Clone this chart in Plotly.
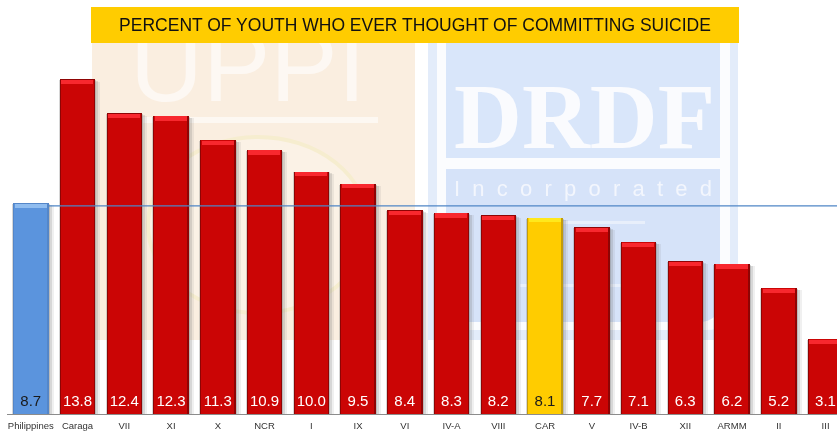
import plotly.graph_objects as go

regions = ["Philippines", "Caraga", "VII", "XI", "X", "NCR", "I", "IX", "VI", "IV-A",
           "VIII", "CAR", "V", "IV-B", "XII", "ARMM", "II", "III"]
percent = [8.7, 13.8, 12.4, 12.3, 11.3, 10.9, 10.0, 9.5, 8.4, 8.3, 8.2, 8.1, 7.7, 7.1, 6.3, 6.2, 5.2, 3.1]
reference_line = 8.58
title_text = "PERCENT OF YOUTH WHO EVER THOUGHT OF COMMITTING SUICIDE"

W, H = 837, 431
BASE_PX = 414
PX_PER_UNIT = 24.25
SPACING = 46.75
C0 = 30.8
BAR_W = 35.5 / SPACING
px = 1 / SPACING

kinds = ["blue" if r == "Philippines" else "gold" if r == "CAR" else "red" for r in regions]
face = {"blue": "#5b94dd", "gold": "#ffcc00", "red": "#cb0505"}
edge = {"blue": "#5486c8", "gold": "#c29c0c", "red": "#8f0404"}
bevel = {"blue": "#8fbcef", "gold": "#ffe81c", "red": "#f8282e"}
label_col = {"blue": "#1a1a1a", "gold": "#1a1a1a", "red": "#ffffff"}
xs = list(range(len(regions)))
SANS = "Liberation Sans, Arial, sans-serif"


def X(p):
    return p / W


def Y(p):
    return 1 - p / BASE_PX


fig = go.Figure()


def bars(values, colors, left, right, base=None, opacity=None):
    fig.add_trace(go.Bar(
        x=xs, y=values, base=base, width=BAR_W - (left + right) * px,
        offset=-BAR_W / 2 + left * px, marker=dict(color=colors, line=dict(width=0)),
        opacity=opacity, hoverinfo="skip", showlegend=False))


# soft drop shadow to the right of each bar
bars([v - 0.1 for v in percent], "#666666", 6, -5, opacity=0.1)
bars([v - 0.08 for v in percent], "#666666", 4, -3, opacity=0.18)
bars([v - 0.04 for v in percent], "#777777", -1, -1, opacity=0.3)
# body: dark edge, then face, then lit top bevel
bars(percent, [edge[k] for k in kinds], 0, 0)
bars([v - 0.02 for v in percent], [face[k] for k in kinds], 1, 1.5)
bars([0.17] * len(percent), [bevel[k] for k in kinds], 1.5, 2, base=[v - 0.2 for v in percent])

fig.add_trace(go.Scatter(
    x=xs, y=[0.5] * len(xs), mode="text", text=[f"{v:.1f}" for v in percent],
    textposition="middle center", cliponaxis=False,
    textfont=dict(family=SANS, size=15, color=[label_col[k] for k in kinds]),
    hoverinfo="skip", showlegend=False))

shapes = []


def rect(x0, y0, x1, y1, color, layer="below"):
    shapes.append(dict(type="rect", xref="paper", yref="paper", x0=X(x0), x1=X(x1), y0=Y(y1), y1=Y(y0),
                       fillcolor=color, line=dict(width=0), layer=layer))


def round_bottom(x0, y0, x1, y1, r, color):
    a, b, c, d = X(x0), X(x1), Y(y0), Y(y1)
    rx, ry = r / W, r / BASE_PX
    path = (f"M {a} {c} L {b} {c} L {b} {d + ry} Q {b} {d} {b - rx} {d} "
            f"L {a + rx} {d} Q {a} {d} {a} {d + ry} Z")
    shapes.append(dict(type="path", xref="paper", yref="paper", path=path, fillcolor=color,
                       line=dict(width=0), layer="below"))


# left logo panel
rect(92, 43, 415, 340, "#faeee0")
shapes.append(dict(type="circle", xref="paper", yref="paper", x0=X(148), x1=X(368), y0=Y(313), y1=Y(137),
                   fillcolor="#fbf2e6", line=dict(color="#f6edcf", width=4), layer="below"))
rect(143, 117, 378, 123, "#fdf8f2")
# right logo panel
rect(428, 43, 738, 340, "#e3ecfa")
round_bottom(437, 43, 730, 330, 24, "#fbfcfe")
rect(446, 43, 720, 158, "#d9e6fa")
round_bottom(446, 169, 720, 322, 22, "#d6e3f9")
rect(563, 221, 645, 224, "#e8effb")
rect(520, 284, 621, 287, "#e8effb")
# baseline
rect(7, BASE_PX, 837, BASE_PX + 1, "#8c8c8c", layer="above")
# reference line
shapes.append(dict(type="line", xref="paper", yref="y", x0=X(49), x1=1, y0=reference_line, y1=reference_line,
                   line=dict(color="#4f86c6", width=1.3), layer="above"))

annotations = [
    dict(text="UPPI", x=X(248), y=Y(66), xref="paper", yref="paper", showarrow=False, xanchor="center",
         yanchor="middle", font=dict(family=SANS, size=101, color="#fdf8f3")),
    dict(text="DRDF", x=X(584), y=Y(116), xref="paper", yref="paper", showarrow=False, xanchor="center",
         yanchor="middle", font=dict(family="Liberation Serif", size=94, color="#fafbfe", weight="bold")),
    dict(text="I\u00a0\u00a0n\u00a0\u00a0c\u00a0\u00a0o\u00a0\u00a0r\u00a0\u00a0p\u00a0\u00a0o\u00a0\u00a0r\u00a0\u00a0a\u00a0\u00a0t\u00a0\u00a0e\u00a0\u00a0d",
         x=X(583), y=Y(188), xref="paper", yref="paper", showarrow=False,
         xanchor="center", yanchor="middle", font=dict(family=SANS, size=22, color="#f3f6fd")),
    dict(text=title_text, x=X(415), y=Y(25), xref="paper", yref="paper", showarrow=False,
         xanchor="center", yanchor="middle", width=648, height=36, bgcolor="#ffcc00", borderpad=0, borderwidth=0,
         align="center", valign="middle", font=dict(family=SANS, size=17.5, color="#111111")),
]

fig.update_layout(
    width=W, height=H, autosize=False, barmode="overlay", bargap=0,
    margin=dict(l=0, r=0, t=0, b=H - BASE_PX, pad=0),
    paper_bgcolor="white", plot_bgcolor="rgba(0,0,0,0)", showlegend=False,
    shapes=shapes, annotations=annotations,
    xaxis=dict(range=[-C0 / SPACING, (W - C0) / SPACING], tickmode="array", tickvals=xs, ticktext=regions,
               showgrid=False, zeroline=False, showline=False, ticks="outside", ticklen=3, automargin=False,
               tickcolor="rgba(0,0,0,0)", tickangle=0,
               tickfont=dict(family=SANS, size=9.5, color="#333333")),
    yaxis=dict(range=[0, BASE_PX / PX_PER_UNIT], visible=False, fixedrange=True, automargin=False),
)
fig.write_html("out.html", config=dict(displayModeBar=False),
               post_script="document.body.style.margin='0';")
